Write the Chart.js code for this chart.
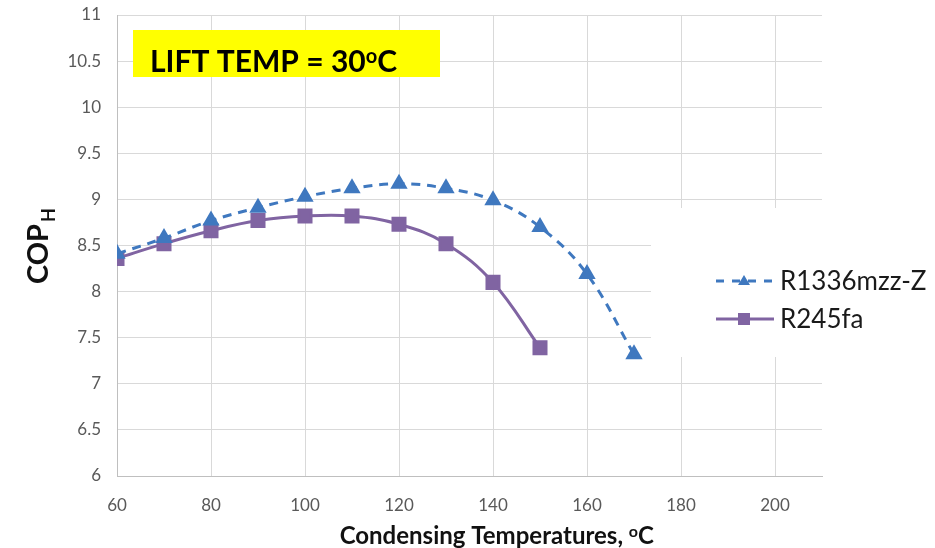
<!DOCTYPE html>
<html>
<head>
<meta charset="utf-8">
<script src="https://cdn.jsdelivr.net/npm/chart.js@4"></script>
<style>
  html, body { margin: 0; padding: 0; background: #fff; }
  #wrap { width: 935px; height: 548px; }
</style>
</head>
<body>
<div id="wrap"><canvas id="cop"></canvas></div>
<script>
// condensing temperatures (C)
const tempsR1336 = [60, 70, 80, 90, 100, 110, 120, 130, 140, 150, 160, 170];
const copR1336 = [8.41, 8.58, 8.77, 8.91, 9.03, 9.12, 9.17, 9.12, 8.99, 8.70, 8.19, 7.32];
const tempsR245 = [60, 70, 80, 90, 100, 110, 120, 130, 140, 150];
const copR245 = [8.36, 8.52, 8.66, 8.77, 8.82, 8.82, 8.73, 8.52, 8.10, 7.39];
const xTicks = [60, 80, 100, 120, 140, 160, 180, 200];
const seriesNames = ['R1336mzz-Z', 'R245fa'];

const BLUE = '#3f78bf';
const PURPLE = '#8064a2';
const FONT = 'Lato, "Open Sans", sans-serif';

function toPoints(xs, ys) {
    return xs.map((x, i) => ({x: x, y: ys[i]}));
}

// text with a small raised "o" for degrees
function degText(ctx, before, after, x, y, size) {
    ctx.fillText(before, x, y);
    let w = ctx.measureText(before).width;
    const f = ctx.font;
    ctx.font = f.replace(size + 'px', Math.round(size * 0.66) + 'px');
    ctx.fillText('o', x + w, y - size * 0.3);
    w += ctx.measureText('o').width;
    ctx.font = f;
    ctx.fillText(after, x + w, y);
}

const extras = {
    id: 'extras',
    beforeDatasetsDraw(chart) {
        const ctx = chart.ctx;
        // legend sits on a white patch over the grid
        ctx.save();
        ctx.fillStyle = '#fff';
        ctx.fillRect(651, 208, 284, 149);
        ctx.restore();
    },
    afterDraw(chart) {
        const ctx = chart.ctx;
        ctx.save();

        // yellow label box
        ctx.fillStyle = '#ffff00';
        ctx.fillRect(133, 30, 307, 47);
        ctx.fillStyle = '#000';
        ctx.font = 'bold 30px ' + FONT;
        ctx.textBaseline = 'alphabetic';
        degText(ctx, 'LIFT TEMP = 30', 'C', 150, 72, 30);

        // legend
        ctx.lineWidth = 3;
        ctx.strokeStyle = BLUE;
        ctx.setLineDash([8, 8]);
        ctx.beginPath();
        ctx.moveTo(716, 281);
        ctx.lineTo(774, 281);
        ctx.stroke();
        ctx.setLineDash([]);
        ctx.fillStyle = BLUE;
        ctx.beginPath();
        ctx.moveTo(744, 275);
        ctx.lineTo(750, 285);
        ctx.lineTo(738, 285);
        ctx.closePath();
        ctx.fill();

        ctx.strokeStyle = PURPLE;
        ctx.beginPath();
        ctx.moveTo(716, 319);
        ctx.lineTo(774, 319);
        ctx.stroke();
        ctx.fillStyle = PURPLE;
        ctx.fillRect(738, 313, 12, 12);

        ctx.fillStyle = '#1a1a1a';
        ctx.font = '26px ' + FONT;
        ctx.textBaseline = 'middle';
        ctx.fillText(seriesNames[0], 780, 282);
        ctx.fillText(seriesNames[1], 780, 320);

        // x axis title
        ctx.font = 'bold 24px ' + FONT;
        ctx.textBaseline = 'alphabetic';
        ctx.fillStyle = '#111';
        const xt = 'Condensing Temperatures, ';
        const tw = ctx.measureText(xt + 'oC').width;
        degText(ctx, xt, 'C', 499 - tw / 2, 544, 24);

        // y axis title, COP with subscript H
        ctx.translate(48, 248);
        ctx.rotate(-Math.PI / 2);
        ctx.font = 'bold 29px ' + FONT;
        const cw = ctx.measureText('COP').width;
        ctx.fillText('COP', -cw / 2 - 6, 0);
        ctx.font = 'bold 18px ' + FONT;
        ctx.fillText('H', cw / 2 - 4, 7);
        ctx.restore();
    }
};

const ctx = document.getElementById('cop').getContext('2d');
const copChart = new Chart(ctx, {
    type: 'line',
    data: {
        datasets: [{
            label: seriesNames[0],
            data: toPoints(tempsR1336, copR1336),
            borderColor: BLUE,
            backgroundColor: BLUE,
            borderWidth: 3,
            borderDash: [9, 7],
            pointStyle: 'triangle',
            pointRadius: 7,
            pointHoverRadius: 7,
            tension: 0.4,
            fill: false
        }, {
            label: seriesNames[1],
            data: toPoints(tempsR245, copR245),
            borderColor: PURPLE,
            backgroundColor: PURPLE,
            borderWidth: 3,
            pointStyle: 'rect',
            pointRadius: 8.5,
            pointHoverRadius: 8.5,
            tension: 0.4,
            fill: false
        }]
    },
    options: {
        responsive: true,
        maintainAspectRatio: false,
        animation: false,
        layout: {
            padding: {top: 15, right: 113, left: 0, bottom: 0}
        },
        plugins: {
            legend: {display: false},
            tooltip: {enabled: false}
        },
        scales: {
            x: {
                type: 'linear',
                min: 60,
                max: 210,
                afterBuildTicks: function (scale) {
                    scale.ticks = xTicks.map(v => ({value: v}));
                },
                afterFit: function (scale) {
                    scale.height = 72;
                },
                grid: {color: '#d9d9d9', lineWidth: 1, drawTicks: false},
                border: {color: '#bfbfbf', width: 1},
                ticks: {
                    color: '#595959',
                    font: {family: FONT, size: 17},
                    padding: 19,
                    maxRotation: 0
                }
            },
            y: {
                min: 6,
                max: 11,
                afterFit: function (scale) {
                    scale.width = 117;
                },
                // tick marks hidden; their length just spaces the labels
                grid: {color: '#d9d9d9', lineWidth: 1, drawTicks: true, tickLength: 16, tickColor: 'rgba(0,0,0,0)'},
                border: {color: '#bfbfbf', width: 1},
                ticks: {
                    stepSize: 0.5,
                    color: '#595959',
                    font: {family: FONT, size: 17},
                    padding: 0,
                    callback: v => String(v)
                }
            }
        }
    },
    plugins: [extras]
});
</script>
</body>
</html>
